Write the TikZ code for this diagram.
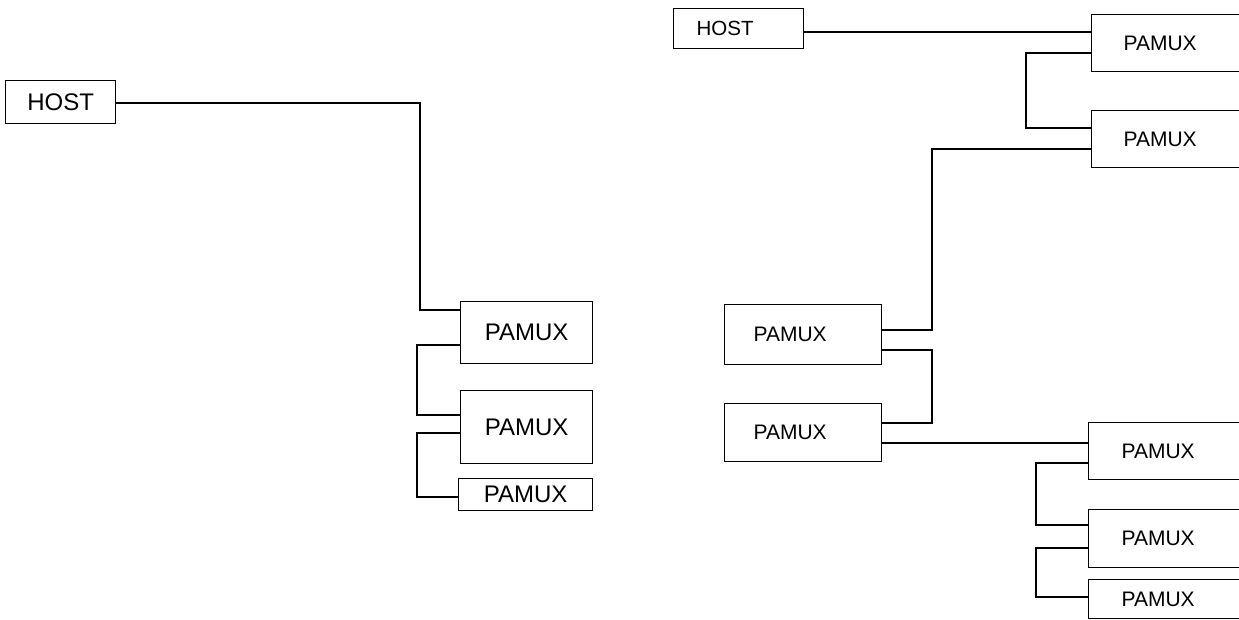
\documentclass[tikz,border=0pt]{standalone}
\usepackage{fontspec}
\setmainfont{Liberation Sans}
\begin{document}
\begin{tikzpicture}[x=1pt,y=-1pt,
  line width=1.2pt,
  boxL/.style={draw, rectangle, anchor=north west, inner sep=0pt, align=center, font=\fontsize{24}{28}\selectfont},
  boxR/.style={draw, rectangle, anchor=north west, inner ysep=0pt, align=left, font=\fontsize{21}{25}\selectfont},
  link/.style={line width=1.2pt}]
\useasboundingbox (0,0) rectangle (1239,619);
\clip (0,0) rectangle (1239,619);
% left diagram
\node[boxL, minimum width=110pt, minimum height=43pt] (hostL) at (5,80) {HOST};
\node[boxL, minimum width=132pt, minimum height=62pt] (p1) at (460,301) {PAMUX};
\node[boxL, minimum width=132pt, minimum height=73pt] (p2) at (460,390) {PAMUX};
\node[boxL, minimum width=134pt, minimum height=32pt] (p3) at (458,478) {PAMUX};
\draw[link] (hostL.east |- 0,103) -- (420,103) -- (420,310) -- (p1.west |- 0,310);
\draw[link] (p1.west |- 0,345) -- (417,345) -- (417,415) -- (p2.west |- 0,415);
\draw[link] (p2.west |- 0,433) -- (417,433) -- (417,497) -- (p3.west |- 0,497);
% right diagram
\node[boxR, inner xsep=23pt, text width=84pt, minimum height=40pt, font=\fontsize{20.5}{24}\selectfont] (hostR) at (673,8) {HOST};
\node[boxR, inner xsep=32pt, text width=136pt, minimum height=57pt] (r1) at (1091,14) {PAMUX};
\node[boxR, inner xsep=32pt, text width=136pt, minimum height=57pt] (r2) at (1091,110) {PAMUX};
\node[boxR, inner xsep=29pt, text width=99pt, minimum height=60pt] (r3) at (724,304) {PAMUX};
\node[boxR, inner xsep=29pt, text width=99pt, minimum height=58pt] (r4) at (724,403) {PAMUX};
\node[boxR, inner xsep=33pt, text width=134pt, minimum height=57pt] (r5) at (1088,422) {PAMUX};
\node[boxR, inner xsep=33pt, text width=134pt, minimum height=58pt] (r6) at (1088,509) {PAMUX};
\node[boxR, inner xsep=33pt, text width=134pt, minimum height=39pt] (r7) at (1088,579) {PAMUX};
\draw[link] (hostR.east |- 0,32) -- (r1.west |- 0,32);
\draw[link] (r1.west |- 0,53) -- (1026,53) -- (1026,128) -- (r2.west |- 0,128);
\draw[link] (r2.west |- 0,149) -- (932,149) -- (932,330) -- (r3.east |- 0,330);
\draw[link] (r3.east |- 0,350) -- (932,350) -- (932,423) -- (r4.east |- 0,423);
\draw[link] (r4.east |- 0,443) -- (r5.west |- 0,443);
\draw[link] (r5.west |- 0,463) -- (1036,463) -- (1036,525) -- (r6.west |- 0,525);
\draw[link] (r6.west |- 0,548) -- (1036,548) -- (1036,597) -- (r7.west |- 0,597);
\end{tikzpicture}
\end{document}
